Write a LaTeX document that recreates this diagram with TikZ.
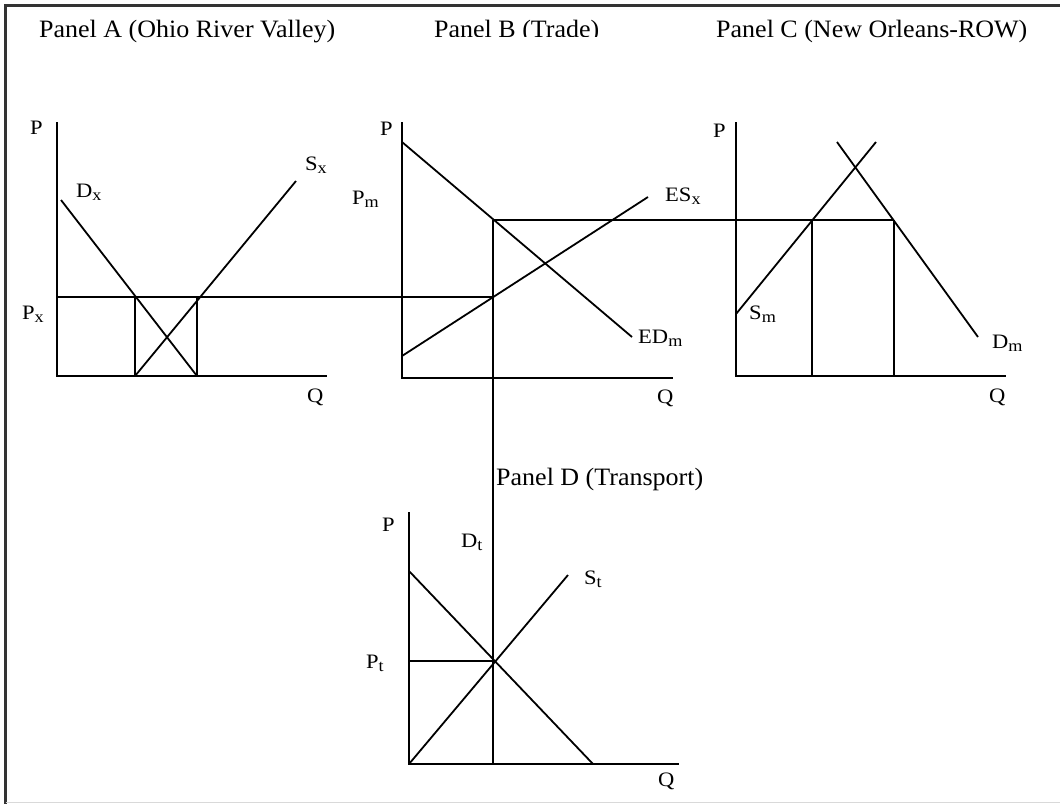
\documentclass[tikz,border=0pt]{standalone}
\usepackage{fontspec}
\setmainfont{Liberation Serif}
\newfontfamily\lblfont[FakeStretch=1.1]{Liberation Serif}
\newfontfamily\ttlfont[FakeStretch=1.04]{Liberation Serif}
\newcommand\lsub[1]{\raisebox{-0.16em}{\fontsize{16.5}{17}\selectfont #1}}
\tikzset{
  ln/.style={line width=1.8pt, black},
  frameline/.style={line width=2.4pt, black!80},
  lbl/.style={inner sep=0pt, anchor=base west, font=\lblfont\fontsize{20.5}{24}\selectfont},
  ttl/.style={inner sep=0pt, anchor=base west, font=\ttlfont\fontsize{25}{30}\selectfont}
}
\begin{document}
\begin{tikzpicture}[x=1pt,y=-1pt]
\useasboundingbox (0,0) rectangle (1060,804);
\fill[white] (0,0) rectangle (1060,804);
% frame
\coordinate (fTL) at (5.5,5.3);
\coordinate (fTR) at (1060,5.3);
\coordinate (fBL) at (5.5,804);
\coordinate (gL) at (5.5,802.5);
\coordinate (gR) at (1060,802.5);
\draw[frameline] (fTR) -- (fTL) -- (fBL);
\draw[line width=1.2pt, black!15] (gL) -- (gR);

% titles
\node[ttl] (tA) at (39,37.5) {Panel A (Ohio River Valley)};
\begin{scope}
  \clip (420,0) rectangle (640,36.3);
  \node[ttl] (tB) at (434,37.5) {Panel B (Trade)};
\end{scope}
\node[ttl] (tC) at (716,37.5) {Panel C (New Orleans-ROW)};
\node[ttl] (tD) at (496,485) {Panel D (Transport)};

% ---------- Panel A ----------
\coordinate (A0) at (57,376);
\coordinate (Atop) at (57,122);
\coordinate (Aend) at (327,376);
\coordinate (ApxL) at (57,297);
\coordinate (Dx1) at (61,200);
\coordinate (Dx2) at (197,376);
\coordinate (Sx1) at (135,376);
\coordinate (Sx2) at (296,181);
\coordinate (Av1t) at (135,297);
\coordinate (Av2t) at (197,297);
\draw[ln] (Atop) -- (A0) -- (Aend);
\draw[ln] (Dx1) -- (Dx2);
\draw[ln] (Sx1) -- (Sx2);
\draw[ln] (Av1t) -- (Sx1);
\draw[ln] (Av2t) -- (Dx2);
\node[lbl] (AP) at (30,134) {P};
\node[lbl] (ADx) at (76,197) {D\lsub{x}};
\node[lbl] (ASx) at (305,170) {S\lsub{x}};
\node[lbl] (APx) at (22,319) {P\lsub{x}};
\node[lbl] (AQ) at (307,402) {Q};

% ---------- Panel B ----------
\coordinate (B0) at (402,378);
\coordinate (Btop) at (402,122);
\coordinate (Bend) at (673,378);
\coordinate (ED1) at (402,142);
\coordinate (ED2) at (632,337);
\coordinate (ES1) at (402,356);
\coordinate (ES2) at (648,197);
\coordinate (Bpx) at (493,297);
\coordinate (Bpm) at (493,220);
\draw[ln] (Btop) -- (B0) -- (Bend);
\draw[ln] (ED1) -- (ED2);
\draw[ln] (ES1) -- (ES2);
\draw[ln] (ApxL) -- (Bpx);
\node[lbl] (BP) at (380,135) {P};
\node[lbl] (BPm) at (352,204) {P\lsub{m}};
\node[lbl] (BES) at (665,201) {ES\lsub{x}};
\node[lbl] (BED) at (638,343) {ED\lsub{m}};
\node[lbl] (BQ) at (657,403) {Q};

% ---------- Panel C ----------
\coordinate (C0) at (736,376);
\coordinate (Ctop) at (736,122);
\coordinate (Cend) at (1006,376);
\coordinate (Sm1) at (736,314);
\coordinate (Sm2) at (876,142);
\coordinate (Dm1) at (837,142);
\coordinate (Dm2) at (978,337);
\coordinate (Cv1t) at (812,220);
\coordinate (Cv1b) at (812,376);
\coordinate (Cv2t) at (894,220);
\coordinate (Cv2b) at (894,376);
\draw[ln] (Ctop) -- (C0) -- (Cend);
\draw[ln] (Sm1) -- (Sm2);
\draw[ln] (Dm1) -- (Dm2);
\draw[ln] (Cv1t) -- (Cv1b);
\draw[ln] (Cv2t) -- (Cv2b);
\draw[ln] (Bpm) -- (Cv2t);
\node[lbl] (CP) at (713,137) {P};
\node[lbl] (CSm) at (749,319) {S\lsub{m}};
\node[lbl] (CDm) at (992,348) {D\lsub{m}};
\node[lbl] (CQ) at (989,402) {Q};

% ---------- Panel D ----------
\coordinate (D0) at (409,764);
\coordinate (Dtop) at (409,512);
\coordinate (Dend) at (679,764);
\coordinate (Dd1) at (409,571);
\coordinate (Dd2) at (593,764);
\coordinate (St2) at (568,575);
\coordinate (Dpt) at (409,661);
\coordinate (Deq) at (493,661);
\coordinate (Dvb) at (493,764);
\draw[ln] (Dtop) -- (D0) -- (Dend);
\draw[ln] (Dd1) -- (Dd2);
\draw[ln] (D0) -- (St2);
\draw[ln] (Dpt) -- (Deq);
\draw[ln] (Bpm) -- (Dvb);
\node[lbl] (DP) at (382,531) {P};
\node[lbl] (DDt) at (461,547) {D\lsub{t}};
\node[lbl] (DSt) at (584,584) {S\lsub{t}};
\node[lbl] (DPt) at (366,668) {P\lsub{t}};
\node[lbl] (DQ) at (658,786) {Q};
\end{tikzpicture}
\end{document}
